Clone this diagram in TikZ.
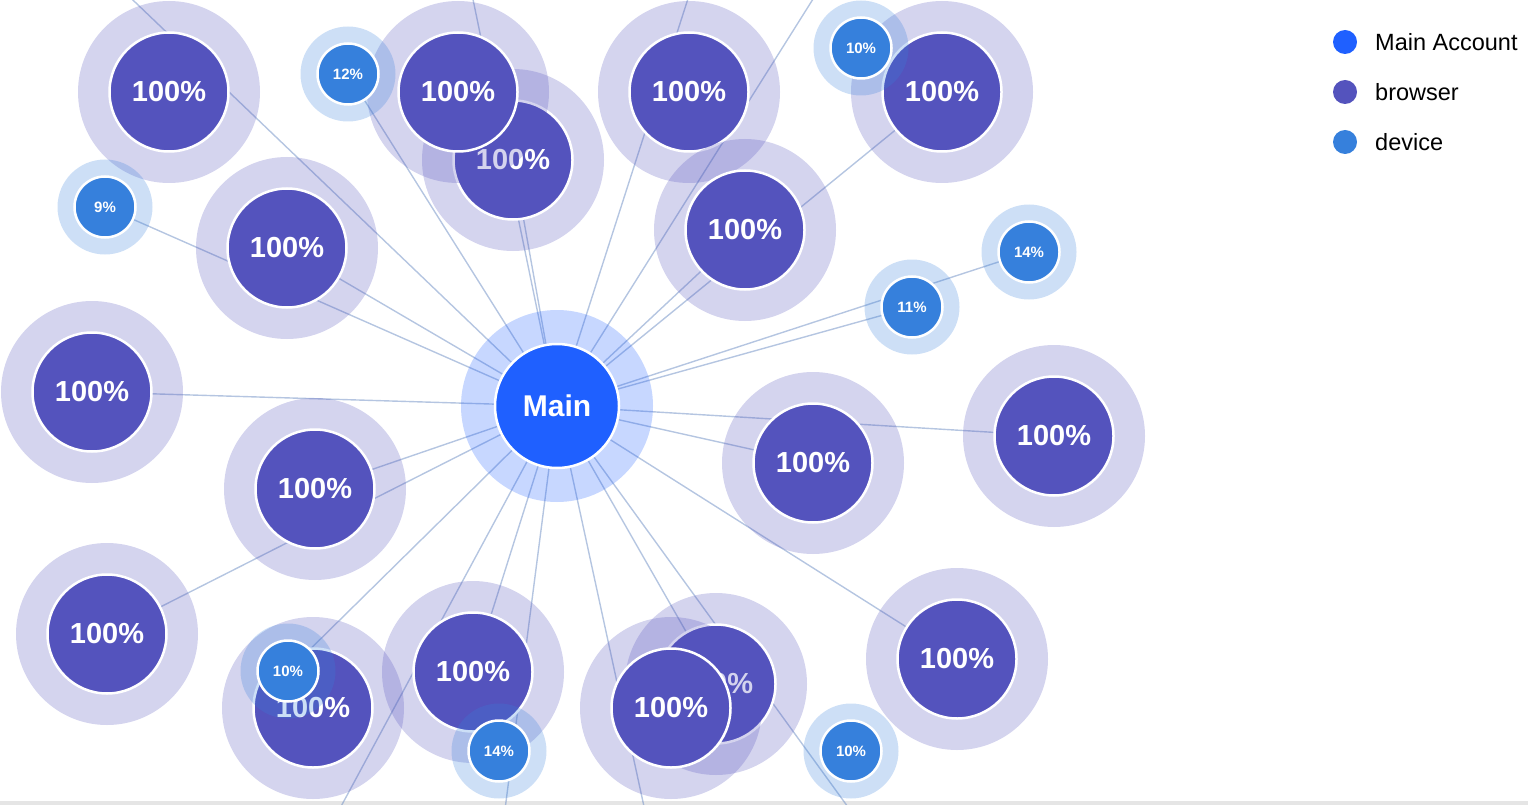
\documentclass[tikz,border=0pt]{standalone}
\usepackage{fontspec}
\setmainfont{Liberation Sans}
\usetikzlibrary{backgrounds}
\definecolor{maincol}{RGB}{31,96,255}
\definecolor{brcol}{RGB}{84,83,189}
\definecolor{devcol}{RGB}{54,128,220}
\definecolor{linkcol}{RGB}{120,150,200}
\tikzset{
  mainhalo/.style={circle, fill=maincol, fill opacity=0.25, minimum size=192pt, inner sep=0pt},
  maincirc/.style={circle, fill=maincol, draw=white, line width=2.5pt, minimum size=124pt, inner sep=0pt, text=white, font=\bfseries\fontsize{30}{30}\selectfont},
  brhalo/.style={circle, fill=brcol, fill opacity=0.25, minimum size=182pt, inner sep=0pt},
  brcirc/.style={circle, fill=brcol, draw=white, line width=2.5pt, minimum size=119pt, inner sep=0pt, text=white, font=\bfseries\fontsize{29}{29}\selectfont},
  devhalo/.style={circle, fill=devcol, fill opacity=0.25, minimum size=95pt, inner sep=0pt},
  devcirc/.style={circle, fill=devcol, draw=white, line width=2.5pt, minimum size=61pt, inner sep=0pt, text=white, font=\bfseries\fontsize{15}{15}\selectfont},
  link/.style={draw=linkcol, draw opacity=0.55, line width=1.4pt},
  legdot/.style={circle, minimum size=24pt, inner sep=0pt},
  legtext/.style={anchor=west, inner sep=0pt, font=\fontsize{23.5}{24}\selectfont, text=black}
}
\newcommand\mybrowser[2]{\node[brhalo] (#1h) at (#2) {}; \node[brcirc] (#1) at (#2) {100\%};}
\newcommand\mydevice[3]{\node[devhalo] (#1h) at (#2) {}; \node[devcirc] (#1) at (#2) {#3};}
\begin{document}
\begin{tikzpicture}[x=1pt,y=-1pt]
\useasboundingbox (0,0) rectangle (1528,805);
\begin{scope}
\clip (0,0) rectangle (1528,805);
% off-canvas ends
\coordinate (oTL) at (112,-20);
\coordinate (oT1) at (469,-20);
\coordinate (oT2) at (694,-20);
\coordinate (oT3) at (825,-20);
\coordinate (oB1) at (861,825);
\coordinate (oB2) at (648,825);
\coordinate (oB3) at (503,825);
\coordinate (oB4) at (331,825);
% nodes
\node[mainhalo] (mainh) at (557,406) {};
\node[maincirc] (main) at (557,406) {Main};
\mybrowser{b1}{169,92}
\mybrowser{b3}{513,160}
\mybrowser{b2}{458,92}
\mydevice{d1}{348,74}{12\%}
\mybrowser{b4}{689,92}
\mybrowser{b5}{942,92}
\mydevice{d2}{861,48}{10\%}
\mybrowser{b6}{745,230}
\mybrowser{b7}{287,248}
\mydevice{d3}{105,207}{9\%}
\mydevice{d4}{1029,252}{14\%}
\mydevice{d5}{912,307}{11\%}
\mybrowser{b8}{92,392}
\mybrowser{b9}{315,489}
\mybrowser{b10}{107,634}
\mybrowser{b11}{313,708}
\mydevice{d6}{288,671}{10\%}
\mybrowser{b12}{473,672}
\mydevice{d7}{499,751}{14\%}
\mybrowser{b13}{716,684}
\mybrowser{b14}{671,708}
\mybrowser{b15}{813,463}
\mybrowser{b16}{1054,436}
\mybrowser{b17}{957,659}
\mydevice{d8}{851,751}{10\%}
% links
\begin{scope}[on background layer]
\clip (0,0) rectangle (1528,805);
\fill[black!10] (0,801) rectangle (1528,805);
\foreach \t in {oTL,d1,oT1,b3,oT2,oT3,b6,b5,d4,d5,b16,b15,b17,b13,oB1,oB2,oB3,b12,oB4,d6,b10,b9,b8,d3,b7}
  \draw[link] (main.center) -- (\t.center);
\end{scope}
\end{scope}
% legend
\node[legdot, fill=maincol] (lg1) at (1345,42) {};
\node[legtext] (lt1) at (1375,42) {Main Account};
\node[legdot, fill=brcol] (lg2) at (1345,92) {};
\node[legtext] (lt2) at (1375,92) {browser};
\node[legdot, fill=devcol] (lg3) at (1345,142) {};
\node[legtext] (lt3) at (1375,142) {device};
\end{tikzpicture}
\end{document}
